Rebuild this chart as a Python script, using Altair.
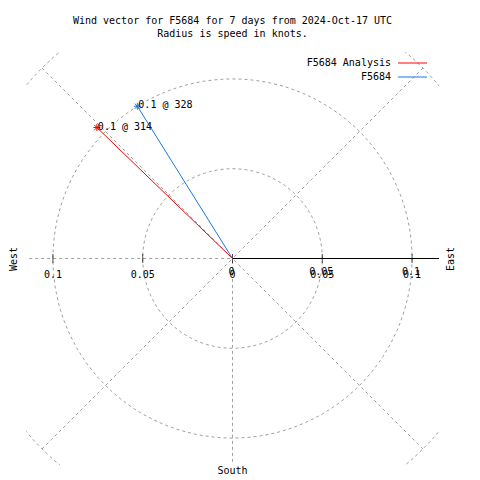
import altair as alt
import pandas as pd

# ---- data ----
SERIES = ["F5684 Analysis", "F5684"]
SPEEDS = [0.105, 0.1]          # knots
DIRECTIONS = [314, 328]        # degrees, clockwise from north
COLORS = ["#ff0000", "#1a78e6"]

TICK_VALUES = [-0.1, -0.05, 0, 0.05, 0.1]
TICK_LABELS = ["0.1", "0.05", "0", "0.05", "0.1"]
R_TICK_VALUES = [0, 0.05, 0.1]
R_TICK_LABELS = ["0", "0.05", "0.1"]
GRID_RADII = [0.05, 0.1, 0.15]
GRID_ANGLES = list(range(0, 361, 3))
SPOKE_ANGLES = [45, 90, 135, 180, 225, 270, 315]
SPOKE_LENGTH = 0.15
AXIS_MAX = 0.115

TITLE_LINES = ["Wind vector for F5684 for 7 days from 2024-Oct-17 UTC",
               "Radius is speed in knots."]
FONT = "DejaVu Sans Mono"
GRID_COLOR = "#a0a0a0"
STAR = "M-1,0L1,0M0,-1L0,1M-0.75,-0.75L0.75,0.75M-0.75,0.75L0.75,-0.75"
LEGEND_LINE = "M-2.9,0L2.9,0"

W = H = 413
xs = alt.Scale(domain=[-AXIS_MAX, AXIS_MAX], nice=False, zero=False)
ys = alt.Scale(domain=[-AXIS_MAX, AXIS_MAX], nice=False, zero=False)

title_axis = dict(domain=False, ticks=False, labels=False, grid=False,
                  titleFont=FONT, titleFontSize=10, titleFontWeight="normal",
                  titleColor="black")

# ---- grid circles ----
grid_df = pd.DataFrame([(r, a) for r in GRID_RADII for a in GRID_ANGLES], columns=["r", "a"])
circles = alt.Chart(grid_df).transform_calculate(
    gx="datum.r*sin(datum.a*PI/180)", gy="datum.r*cos(datum.a*PI/180)"
).mark_line(color=GRID_COLOR, strokeDash=[3, 3], strokeWidth=1, clip=True).encode(
    x=alt.X("gx:Q", scale=xs, axis=None),
    y=alt.Y("gy:Q", scale=ys, axis=alt.Axis(title="West", orient="left", titlePadding=8, **title_axis)),
    detail="r:N",
    order="a:Q",
)

# ---- spokes ----
spoke_df = pd.DataFrame({"a": SPOKE_ANGLES})
spokes = alt.Chart(spoke_df).transform_calculate(
    ex=f"{SPOKE_LENGTH}*sin(datum.a*PI/180)", ey=f"{SPOKE_LENGTH}*cos(datum.a*PI/180)"
).mark_rule(color=GRID_COLOR, strokeDash=[3, 3], strokeWidth=1, clip=True).encode(
    x=alt.X("ex:Q", scale=xs, axis=None),
    y=alt.Y("ey:Q", scale=ys, axis=alt.Axis(title="East", orient="right", titleAngle=270,
                                            titlePadding=16, **title_axis)),
    x2=alt.datum(0),
    y2=alt.datum(0),
)

# ---- east axis line ----
axis_df = pd.DataFrame({"x0": [0.0], "x1": [AXIS_MAX], "y0": [0.0]})
axis_line = alt.Chart(axis_df).mark_rule(color="black", strokeWidth=1).encode(
    x=alt.X("x0:Q", scale=xs, axis=None),
    x2="x1:Q",
    y=alt.Y("y0:Q", scale=ys, axis=None),
)

# ---- "South" label at the bottom edge of the plot ----
south_df = pd.DataFrame({"x": [0.0], "y": [-AXIS_MAX], "t": ["South"]})
south = alt.Chart(south_df).mark_text(font=FONT, fontSize=10, color="black",
                                      baseline="middle", dy=6).encode(
    x=alt.X("x:Q", scale=xs, axis=None),
    y=alt.Y("y:Q", scale=ys, axis=None),
    text="t:N",
)

tick_df = pd.DataFrame({"v": TICK_VALUES, "lab": TICK_LABELS})
ticks = alt.Chart(tick_df).mark_tick(orient="vertical", size=9, thickness=1, color="black").encode(
    x=alt.X("v:Q", scale=xs, axis=None),
    y=alt.datum(0, scale=ys, axis=None),
)
tick_labels = alt.Chart(tick_df).mark_text(font=FONT, fontSize=10, color="black",
                                           baseline="middle", dy=16.5).encode(
    x=alt.X("v:Q", scale=xs, axis=None),
    y=alt.datum(0, scale=ys, axis=None),
    text="lab:N",
)
r_df = pd.DataFrame({"v": R_TICK_VALUES, "lab": R_TICK_LABELS})
r_labels = alt.Chart(r_df).mark_text(font=FONT, fontSize=10, color="black",
                                     baseline="middle", dy=13.5, dx=-1).encode(
    x=alt.X("v:Q", scale=xs, axis=None),
    y=alt.datum(0, scale=ys, axis=None),
    text="lab:N",
)

# ---- wind vectors ----
vec = pd.DataFrame({"series": SERIES, "speed": SPEEDS, "direction": DIRECTIONS})
vbase = alt.Chart(vec).transform_calculate(
    vx="datum.speed*sin(datum.direction*PI/180)",
    vy="datum.speed*cos(datum.direction*PI/180)",
    label="format(datum.speed,'.1f') + ' @ ' + datum.direction",
)
cscale = alt.Scale(domain=SERIES, range=COLORS)
legend = alt.Legend(title=None, orient="none", legendX=381, legendY=5.5,
                    symbolType=LEGEND_LINE, symbolSize=100, symbolStrokeWidth=1,
                    symbolFillColor="transparent", symbolOpacity=1,
                    labelFont=FONT, labelFontSize=10, labelColor="black",
                    labelAlign="right", labelOffset={"expr": "-27"},
                    rowPadding=3, padding=0, labelLimit=0)

vectors = vbase.mark_rule(strokeWidth=1, opacity=1).encode(
    x=alt.X("vx:Q", scale=xs, axis=None),
    y=alt.Y("vy:Q", scale=ys, axis=None),
    x2=alt.datum(0),
    y2=alt.datum(0),
    color=alt.Color("series:N", scale=cscale, legend=legend),
)
stars = vbase.mark_point(shape=STAR, size=49, filled=False, strokeWidth=1, opacity=1).encode(
    x=alt.X("vx:Q", scale=xs, axis=None),
    y=alt.Y("vy:Q", scale=ys, axis=None),
    color=alt.Color("series:N", scale=cscale, legend=None),
)
vlabels = vbase.mark_text(font=FONT, fontSize=10, color="black", align="left",
                          baseline="middle", dx=1, dy=-1).encode(
    x=alt.X("vx:Q", scale=xs, axis=None),
    y=alt.Y("vy:Q", scale=ys, axis=None),
    text="label:N",
)

chart = alt.layer(
    circles, spokes, axis_line, south, ticks, tick_labels, r_labels, vectors, stars, vlabels
).properties(
    width=W, height=H,
    title=alt.Title(TITLE_LINES, font=FONT, fontSize=10, fontWeight="normal",
                    color="black", anchor="middle", offset=13, lineHeight=13),
    autosize=alt.AutoSizeParams(type="none"),
    padding={"left": 18, "top": 44, "right": 33, "bottom": 12},
).configure(background="white").configure_view(stroke=None)

chart.save("out.html", embed_options={"renderer": "svg", "actions": False})
